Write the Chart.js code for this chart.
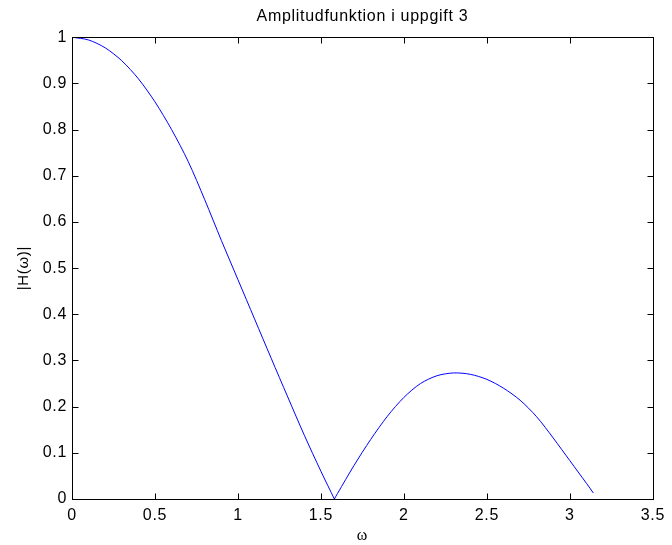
<!DOCTYPE html>
<html>
<head>
<meta charset="utf-8">
<style>
  body { margin: 0; background: #fff; }
  canvas { display: block; }
</style>
</head>
<body>
<canvas id="amplitud" width="672" height="545"></canvas>
<script src="https://cdn.jsdelivr.net/npm/chart.js@4.4.1/dist/chart.umd.min.js"></script>
<script>
// omega (rad) and |H(omega)|; main lobe then side lobe
const mainOmega = [0, 0.1, 0.2, 0.3, 0.4, 0.5, 0.6, 0.7, 0.8, 0.9,
  1.0, 1.1, 1.2, 1.3, 1.4, 1.5, 1.581];
const mainMag = [1, 0.994, 0.977, 0.949, 0.910, 0.860, 0.800, 0.731, 0.648, 0.560,
  0.475, 0.390, 0.305, 0.221, 0.138, 0.060, 0.0];
const sideOmega = [1.581, 1.6, 1.7, 1.8, 1.9, 2.0, 2.1, 2.2, 2.3, 2.4, 2.5,
  2.6, 2.7, 2.8, 2.9, 3.0, 3.1, 3.1416];
const sideMag = [0.0, 0.012, 0.073, 0.129, 0.179, 0.220, 0.250, 0.267, 0.273, 0.270, 0.259,
  0.240, 0.214, 0.178, 0.132, 0.083, 0.034, 0.013];

const xTicks = [0, 0.5, 1, 1.5, 2, 2.5, 3, 3.5];
const yTicks = [0, 0.1, 0.2, 0.3, 0.4, 0.5, 0.6, 0.7, 0.8, 0.9, 1];

function toPoints(xs, ys) {
  return xs.map(function(w, i) { return {x: w, y: ys[i]}; });
}

const sans = "'Liberation Sans', Arial, Helvetica, sans-serif";

// matlab style box with inward ticks
const frame = {
  id: 'frame',
  beforeUpdate(chart) { chart.ctx.letterSpacing = '0.7px'; },
  beforeDraw(chart) { chart.ctx.letterSpacing = '0.7px'; },
  afterDatasetsDraw(chart) {
    const ctx = chart.ctx;
    const a = chart.chartArea;
    const xs = chart.scales.x, ys = chart.scales.y;
    const l = Math.round(a.left) + 0.5, r = Math.round(a.right) + 0.5;
    const t = Math.round(a.top) + 0.5, b = Math.round(a.bottom) + 0.5;
    ctx.save();
    ctx.strokeStyle = '#000';
    ctx.lineWidth = 1;
    xTicks.forEach(function(v) {
      const px = Math.round(xs.getPixelForValue(v)) + 0.5;
      ctx.beginPath();
      ctx.moveTo(px, b); ctx.lineTo(px, b - 6);
      ctx.moveTo(px, t); ctx.lineTo(px, t + 6);
      ctx.stroke();
    });
    yTicks.forEach(function(v) {
      const py = Math.round(ys.getPixelForValue(v)) + 0.5;
      ctx.beginPath();
      ctx.moveTo(l, py); ctx.lineTo(l + 6, py);
      ctx.moveTo(r, py); ctx.lineTo(r - 6, py);
      ctx.stroke();
    });
    ctx.strokeRect(l, t, r - l, b - t);
    ctx.restore();
  }
};

const lineStyle = {
  showLine: true,
  borderColor: '#0000ff',
  borderWidth: 1,
  pointRadius: 0,
  tension: 0.3
};

let ctx = document.getElementById('amplitud').getContext('2d');

let amplitudChart = new Chart(ctx, {
  type: 'scatter',
  data: {
    datasets: [
      Object.assign({data: toPoints(mainOmega, mainMag)}, lineStyle),
      Object.assign({data: toPoints(sideOmega, sideMag)}, lineStyle)
    ]
  },
  options: {
    responsive: false,
    animation: false,
    devicePixelRatio: 1,
    layout: {padding: {left: 0, right: 13, top: 0, bottom: 0}},
    plugins: {
      legend: {display: false},
      tooltip: {enabled: false},
      title: {
        display: true,
        text: 'Amplitudfunktion i uppgift 3',
        fullSize: false,
        color: '#000',
        font: {family: sans, size: 16, weight: 'normal'},
        padding: {top: 7, bottom: 11}
      }
    },
    scales: {
      x: {
        type: 'linear',
        min: 0,
        max: 3.5,
        afterBuildTicks: function(s) { s.ticks = xTicks.map(function(v) { return {value: v}; }); },
        afterFit: function(s) { s.height = 46; },
        grid: {display: false, drawTicks: false},
        border: {display: false},
        ticks: {
          color: '#000',
          padding: 7,
          maxRotation: 0,
          font: {family: sans, size: 16},
          callback: function(v) { return String(+v.toFixed(1)); }
        },
        title: {
          display: true,
          text: 'ω',
          color: '#000',
          font: {family: "'Liberation Serif', 'Times New Roman', serif", size: 16},
          padding: {top: 0, bottom: 0}
        }
      },
      y: {
        type: 'linear',
        min: 0,
        max: 1,
        afterBuildTicks: function(s) { s.ticks = yTicks.map(function(v) { return {value: v}; }); },
        afterFit: function(s) { s.width = 72; },
        grid: {display: false, drawTicks: false},
        border: {display: false},
        ticks: {
          color: '#000',
          padding: 5,
          font: {family: sans, size: 16},
          callback: function(v) { return String(+v.toFixed(1)); }
        },
        title: {
          display: true,
          text: '|H(ω)|',
          color: '#000',
          font: {family: sans, size: 15},
          padding: {top: 15, bottom: 0}
        }
      }
    }
  },
  plugins: [frame]
});
</script>
</body>
</html>
